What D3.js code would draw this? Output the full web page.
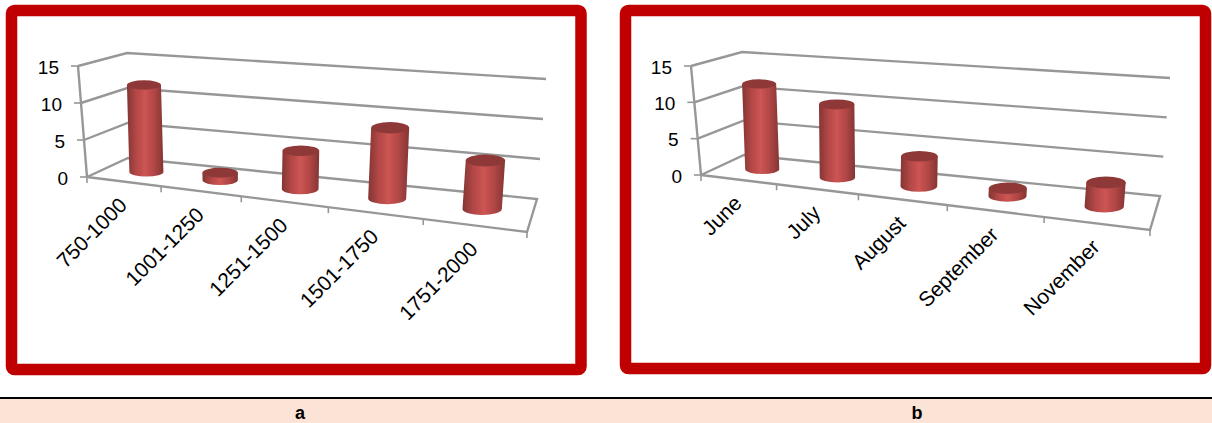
<!DOCTYPE html>
<html>
<head>
<meta charset="utf-8">
<script src="https://cdn.jsdelivr.net/npm/d3@7"></script>
<style>
  html, body { margin: 0; padding: 0; background: #fff; }
  svg { display: block; }
  text { font-family: "Liberation Sans", Arial, sans-serif; fill: #000; }
</style>
</head>
<body>
<div class="canvas"></div>
<script>
// chart data
const categoriesA = ['750-1000', '1001-1250', '1251-1500', '1501-1750', '1751-2000'];
const valuesA = [12, 1, 5, 9, 6];
const categoriesB = ['June', 'July', 'August', 'September', 'November'];
const valuesB = [12, 10, 4, 1, 3];
const valueTicks = [0, 5, 10, 15];
const captions = ['a', 'b'];

// where the 3D box sits on the page, one entry per panel
const panels = [
    {
        categories: categoriesA, values: valuesA, caption: captions[0], captionX: 300,
        frame: {x: 11.5, y: 10.5, w: 569.5, h: 359},
        floor: [[87, 177], [527, 232], [537, 199], [128, 158]],
        roof: [[78, 66], [538, 103], [546, 79], [127, 53]]
    },
    {
        categories: categoriesB, values: valuesB, caption: captions[1], captionX: 917,
        frame: {x: 625.5, y: 10.5, w: 580, h: 358},
        floor: [[701, 175], [1150, 230], [1160, 196], [744, 155]],
        roof: [[691, 66], [1162, 102], [1170, 78], [742, 52]]
    }
];

const svg = d3.select('.canvas').append('svg')
    .attr('width', 1212)
    .attr('height', 423);

// dark edge, light middle, dark edge
const defs = svg.append('defs');
const grad = defs.append('linearGradient').attr('id', 'cyl').attr('x1', 0).attr('x2', 1).attr('y1', 0).attr('y2', 0);
[[0, '#843534'], [0.25, '#b24746'], [0.5, '#cd5554'], [0.75, '#b04645'], [1, '#843534']].forEach(s => {
    grad.append('stop').attr('offset', s[0]).attr('stop-color', s[1]);
});
defs.append('filter').attr('id', 'soft')
    .append('feGaussianBlur').attr('stdDeviation', 0.5);

// the far end of the front edge looks wider, so squeeze u a bit toward the right
const warp = u => 0.81 * u / (1 - 0.19 * u);

// unit square -> quad (front left, front right, back right, back left)
function quadMap(q) {
    const lerp = (a, b, t) => [a[0] + (b[0] - a[0]) * t, a[1] + (b[1] - a[1]) * t];
    return (u, v) => {
        const w = warp(u);
        return lerp(lerp(q[0], q[1], w), lerp(q[3], q[2], w), v);
    };
}

function drawPanel(p) {
    const g = svg.append('g');

    g.append('rect')
        .attr('x', p.frame.x).attr('y', p.frame.y)
        .attr('width', p.frame.w).attr('height', p.frame.h)
        .attr('rx', 3)
        .attr('fill', '#fff')
        .attr('stroke', '#c00000')
        .attr('stroke-width', 11.5);

    const floorAt = quadMap(p.floor);
    const roofAt = quadMap(p.roof);

    const y = d3.scaleLinear().domain([0, 15]).range([0, 1]);
    const x = d3.scaleBand().domain(p.categories).range([0, 1]);

    // u along the categories, v into the depth, val up the value axis
    const project = (u, v, val) => {
        const a = floorAt(u, v), b = roofAt(u, v), t = y(val);
        return [a[0] + (b[0] - a[0]) * t, a[1] + (b[1] - a[1]) * t];
    };
    const line = d3.line();

    const axes = g.append('g')
        .attr('fill', 'none')
        .attr('stroke', '#979797')
        .attr('stroke-width', 2.4)
        .attr('filter', 'url(#soft)');

    // gridlines wrap from front left, along the back wall
    valueTicks.forEach(t => {
        const pts = [project(0, 0, t), project(0, 1, t), project(1, 1, t)];
        if (t === 0) pts.push(project(1, 0, t), project(0, 0, t));
        axes.append('path').attr('d', line(pts));
        const f = project(0, 0, t);
        axes.append('path').attr('stroke-width', 1.6).attr('d', line([f, [f[0] - 7, f[1]]]));
    });
    axes.append('path').attr('d', line([project(0, 0, 0), project(0, 0, 15)]));

    // ticks under the front edge
    x.domain().concat(['end']).forEach((c, i) => {
        const f = project(i / p.categories.length, 0, 0);
        axes.append('path').attr('stroke-width', 1.6).attr('d', line([f, [f[0], f[1] + 6]]));
    });

    // value labels
    g.selectAll('text.val').data(valueTicks).join('text')
        .attr('class', 'val')
        .attr('x', d => project(0, 0, d)[0] - 19)
        .attr('y', d => project(0, 0, d)[1] + 7.5)
        .attr('text-anchor', 'end')
        .attr('font-size', 19)
        .text(d => d);

    // cylinders, they do not overlap so the order does not matter
    p.categories.forEach((c, i) => {
        const u = x(c) + x.bandwidth() / 2;
        const base = project(u, 0.6, 0);
        const top = project(u, 0.6, p.values[i]);
        const rx = 16.7 + 3.3 * u, ry = 4.5 + 1.7 * u;
        // they sit a little lower than the middle of the floor
        const bar = g.append('g').attr('filter', 'url(#soft)').attr('transform', 'translate(0,2.5)');
        bar.append('path')
            .attr('d', `M${top[0] - rx},${top[1]} L${base[0] - rx},${base[1]}
                A${rx},${ry} 0 0 0 ${base[0] + rx},${base[1]}
                L${top[0] + rx},${top[1]} Z`)
            .attr('fill', 'url(#cyl)');
        bar.append('ellipse')
            .attr('cx', top[0]).attr('cy', top[1])
            .attr('rx', rx).attr('ry', ry)
            .attr('fill', '#8f3938');
    });

    // slanted category labels
    p.categories.forEach(c => {
        const u = x(c) + x.bandwidth() / 2;
        const f = project(u, 0, 0);
        g.append('text')
            .attr('transform', `translate(${f[0] + 5},${f[1] + 25}) rotate(-45)`)
            .attr('text-anchor', 'end')
            .attr('font-size', 21)
            .text(c);
    });

    svg.append('text')
        .attr('x', p.captionX).attr('y', 419)
        .attr('text-anchor', 'middle')
        .attr('font-size', 18)
        .attr('font-weight', 'bold')
        .text(p.caption);
}

// caption strip
svg.append('rect').attr('x', 0).attr('y', 398).attr('width', 1212).attr('height', 25).attr('fill', '#fbe4d5');
svg.append('rect').attr('x', 0).attr('y', 397).attr('width', 1212).attr('height', 2).attr('fill', '#000');

panels.forEach(drawPanel);
</script>
</body>
</html>
